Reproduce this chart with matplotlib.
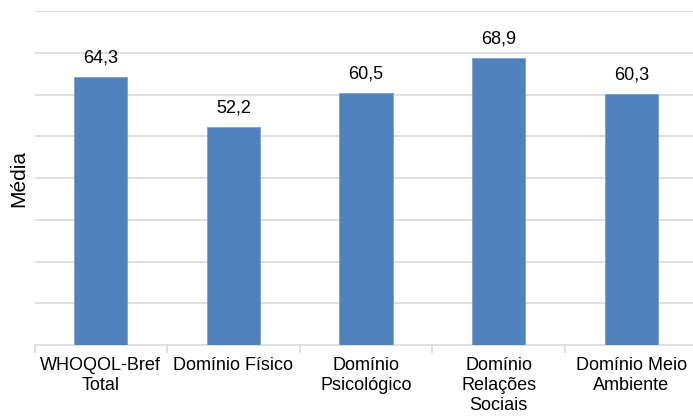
import matplotlib.pyplot as plt
import numpy as np

# dados
categorias = ['WHOQOL-Bref\nTotal', 'Domínio Físico', 'Domínio\nPsicológico',
              'Domínio\nRelações\nSociais', 'Domínio Meio\nAmbiente']
medias = [64.3, 52.2, 60.5, 68.9, 60.3]
rotulos = ['64,3', '52,2', '60,5', '68,9', '60,3']

plt.rcParams['font.family'] = ['Liberation Sans', 'DejaVu Sans']

fig = plt.figure(figsize=(6.93, 4.16), dpi=100)
ax = fig.add_axes([34.5 / 693, 71 / 416, 663 / 693, 333.6 / 416])

x = np.arange(len(categorias))
bars = ax.bar(x, medias, width=0.4, color='#4F81BD', edgecolor='#7BA0CD', linewidth=0.6, zorder=3)

for b, txt in zip(bars, rotulos):
    ax.annotate(txt, (b.get_x() + b.get_width() / 2, b.get_height()),
                xytext=(0, 13.7), textcoords='offset points',
                ha='center', va='center', fontsize=13, color='#000000')

ax.set_xlim(-0.5, len(categorias) - 0.5)
ax.set_ylim(0, 80)
ax.set_yticks(np.arange(10, 81, 10))
ax.yaxis.grid(True, color='#D9D9D9', linewidth=1.2, zorder=0)
ax.tick_params(axis='y', length=0, labelleft=False)

# ticks nos limites das categorias, rotulos no centro
ax.set_xticks(np.arange(len(categorias) + 1) - 0.5)
ax.set_xticklabels([])
ax.set_xticks(x, minor=True)
ax.set_xticklabels(categorias, minor=True, fontsize=13, linespacing=1.2)
ax.tick_params(axis='x', which='major', length=6, color='#D9D9D9', width=1.2)
ax.tick_params(axis='x', which='minor', length=0, pad=9)

for s in ['top', 'right', 'left']:
    ax.spines[s].set_visible(False)
ax.spines['bottom'].set_color('#D9D9D9')
ax.spines['bottom'].set_linewidth(1.2)

ax.set_ylabel('Média', fontsize=15)
ax.yaxis.set_label_coords(-0.009, 0.5)

fig.savefig('out.png', dpi=100, facecolor='white')
